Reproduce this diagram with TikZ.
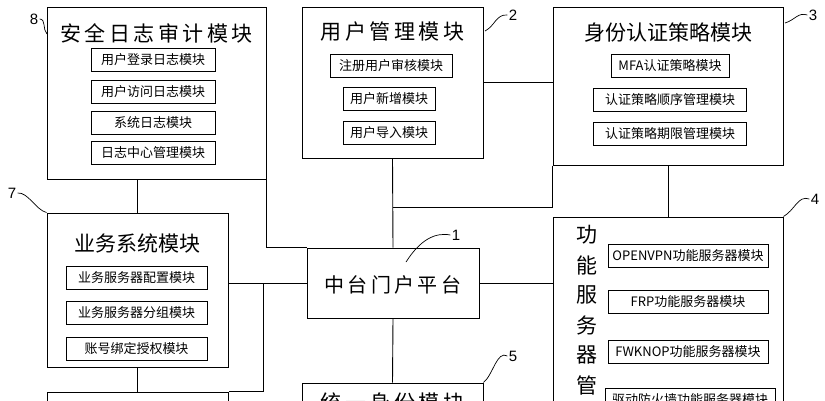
\documentclass[tikz,border=0pt]{standalone}
\usepackage{fontspec}
\setmainfont{Noto Sans CJK SC}
\newfontfamily\numfont{Liberation Sans}
\usetikzlibrary{positioning}

\begin{document}
\begin{tikzpicture}[
	x=1pt,y=-1pt,
	line width=0.9pt,
	box/.style={draw, line width=1pt, inner sep=0pt},
	sub/.style={draw, line width=0.8pt, minimum height=23pt, inner sep=0pt, font=\fontsize{13}{14}\selectfont},
	title/.style={font=\fontsize{21}{24}\selectfont},
	num/.style={font=\numfont\fontsize{15}{16}\selectfont, inner sep=1pt},
	lead/.style={line width=0.7pt}
	]
	\useasboundingbox (0,0) rectangle (825,400);
	\clip (0,0) rectangle (825,400);

	% main boxes
	\node[box, minimum width=219pt, minimum height=172pt] (b8) at (156.5,93) {};
	\node[box, minimum width=181pt, minimum height=151pt] (b2) at (392.5,82.5) {};
	\node[box, minimum width=230pt, minimum height=158pt] (b3) at (668,86) {};
	\node[box, minimum width=181pt, minimum height=154pt] (b7) at (137.5,290) {};
	\node[box, minimum width=172pt, minimum height=70pt] (b1) at (393,283) {};
	\node[box, minimum width=230pt, minimum height=243pt] (b4) at (668,338.5) {};
	\node[box, minimum width=181pt, minimum height=80pt] (b5) at (392.5,423) {};
	\node[box, minimum width=181pt, minimum height=80pt] (b6) at (137.5,432) {};

	% titles
	\node[title] (t8) at (156.5,33) {安\,全\,日\,志\,审\,计\,模\,块};
	\node[title] (t2) at (392.5,32) {用\,户\,管\,理\,模\,块};
	\node[title] (t3) at (668,33) {身份认证策略模块};
	\node[title] (t7) at (137.5,243) {业务系统模块};
	\node[title, font=\fontsize{20}{24}\selectfont] (t1) at (393,285) {中\,台\,门\,户\,平\,台};
	\node[title] (t5) at (392.5,403) {统\,一\,身\,份\,模\,块};
	\foreach \c [count=\i] in {功,能,服,务,器,管}
		\node[title] (v\i) at (587,205+30*\i) {\c};

	% sub modules
	\node[sub, minimum width=124pt] (s81) at (153,59.5) {用户登录日志模块};
	\node[sub, minimum width=124pt] (s82) at (153,91.5) {用户访问日志模块};
	\node[sub, minimum width=124pt] (s83) at (153,122.5) {系统日志模块};
	\node[sub, minimum width=124pt] (s84) at (153,153) {日志中心管理模块};
	\node[sub, minimum width=122pt] (s21) at (391,66) {注册用户审核模块};
	\node[sub, minimum width=92pt] (s22) at (389,99) {用户新增模块};
	\node[sub, minimum width=92pt] (s23) at (389,133) {用户导入模块};
	\node[sub, minimum width=118pt] (s31) at (670,66) {MFA认证策略模块};
	\node[sub, minimum width=153pt] (s32) at (670,99.5) {认证策略顺序管理模块};
	\node[sub, minimum width=153pt] (s33) at (670,133.5) {认证策略期限管理模块};
	\node[sub, minimum width=141pt] (s71) at (136.5,277.5) {业务服务器配置模块};
	\node[sub, minimum width=141pt] (s72) at (136.5,313) {业务服务器分组模块};
	\node[sub, minimum width=141pt] (s73) at (136.5,349) {账号绑定授权模块};
	\node[sub, minimum width=160pt] (s41) at (688,256) {OPENVPN功能服务器模块};
	\node[sub, minimum width=160pt] (s42) at (688,302) {FRP功能服务器模块};
	\node[sub, minimum width=160pt] (s43) at (688,351.5) {FWKNOP功能服务器模块};
	\node[sub, minimum width=170pt] (s44) at (690,399.5) {驱动防火墙功能服务器模块};

	% connectors
	\coordinate (j1) at (393,207);
	\coordinate (j2) at (263,283);
	\draw (b7.north) -- (b7.north |- b8.south);
	\draw (b8.south east) -- (b8.south east |- b1.north west) -- (b1.north west);
	\draw (b2.south) -- (b1.north);
	\draw (b3.south west) |- (j1);
	\draw (b2.east) -- (b3.west |- b2.east);
	\draw (b3.south) -- (b4.north);
	\draw (b7.east |- b1.west) -- (b1.west);
	\draw (b1.east) -- (b4.west |- b1.east);
	\draw (j2) |- (b6.north east);
	\draw (b7.south) -- (b6.north);
	\draw (b1.south) -- (b5.north);

	% reference numbers
	\node[num] (n8) at (34,19) {8};
	\node[num] (n7) at (12,193) {7};
	\node[num] (n2) at (513,15) {2};
	\node[num] (n3) at (813,15) {3};
	\node[num] (n4) at (815,199) {4};
	\node[num] (n1) at (456,235) {1};
	\node[num] (n5) at (513,356) {5};
	\draw[lead] (n8.east) to[out=0,in=135] (47,34);
	\draw[lead] (n7.east) .. controls (28,192) and (36,210) .. (b7.north west);
	\draw[lead] (n2.west) .. controls (496,14) and (495,26) .. (485,31);
	\draw[lead] (n3.west) .. controls (798,12) and (795,20) .. (785,23);
	\draw[lead] (n4.west) .. controls (798,195) and (795,210) .. (b4.north east);
	\draw[lead] (n1.west) .. controls (435,232) and (420,240) .. (406,262);
	\draw[lead] (n5.west) .. controls (497,350) and (493,375) .. (b5.north east);
\end{tikzpicture}
\end{document}
